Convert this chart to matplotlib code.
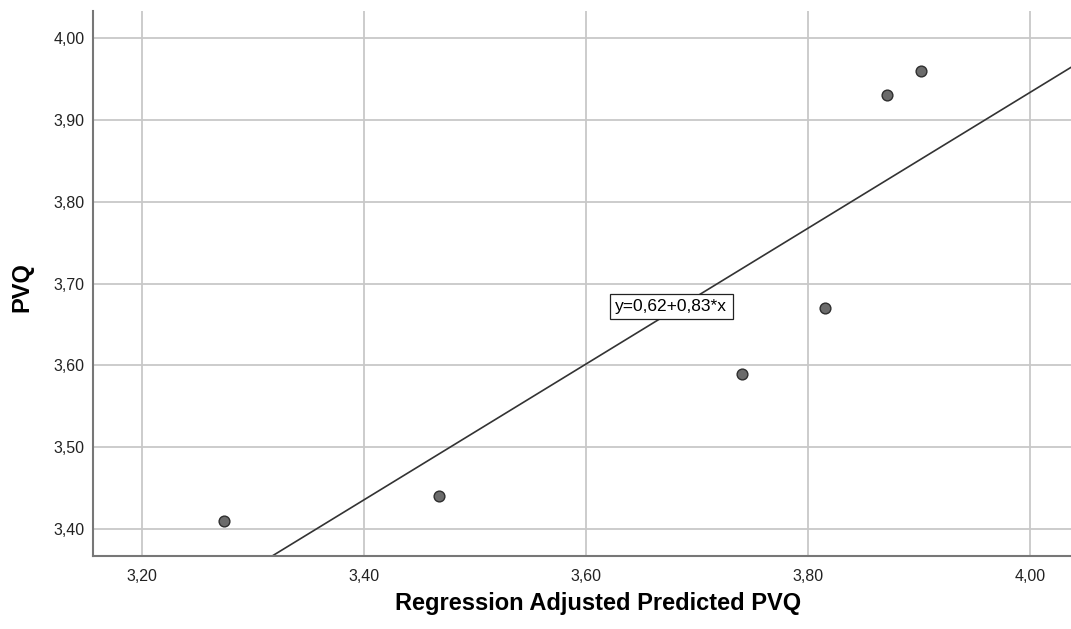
import matplotlib.pyplot as plt
import numpy as np
from matplotlib.ticker import FuncFormatter

# values
predicted_pvq = [3.274, 3.468, 3.741, 3.815, 3.871, 3.902]
observed_pvq = [3.41, 3.44, 3.59, 3.67, 3.93, 3.96]
fit_label = "y=0,62+0,83*x"
x_ticks = [3.20, 3.40, 3.60, 3.80, 4.00]
y_ticks = [3.40, 3.50, 3.60, 3.70, 3.80, 3.90, 4.00]

plt.rcParams["font.family"] = ["Liberation Sans", "DejaVu Sans"]

fig = plt.figure(figsize=(10.71, 6.29), dpi=100)
ax = fig.add_axes([0.0868, 0.116, 0.9132, 0.8665])

x_min, x_max = 3.156, 4.037
y_min, y_max = 3.367, 4.033

ax.grid(True, color="#c8c8c8", linewidth=1.3)
ax.set_axisbelow(True)

# least squares fit line, drawn across the whole x range
slope, intercept = np.polyfit(predicted_pvq, observed_pvq, 1)
fit_x = np.array([x_min, x_max])
ax.plot(fit_x, intercept + slope * fit_x, color="#333333", linewidth=1.2, zorder=2)

ax.scatter(predicted_pvq, observed_pvq, s=60, facecolor="#6b6b6b",
           edgecolor="#2e2e2e", linewidth=1.0, zorder=3)

ax.text(3.677, 3.672, fit_label, fontsize=12.5, ha="center", va="center",
        zorder=4,
        bbox=dict(boxstyle="square,pad=0.3", facecolor="white",
                  edgecolor="#222222", linewidth=0.9))

ax.set_xlim(x_min, x_max)
ax.set_ylim(y_min, y_max)
ax.set_xticks(x_ticks)
ax.set_yticks(y_ticks)
comma_fmt = FuncFormatter(lambda v, _: f"{v:.2f}".replace(".", ","))
ax.xaxis.set_major_formatter(comma_fmt)
ax.yaxis.set_major_formatter(comma_fmt)
ax.tick_params(length=0, labelsize=11.5, colors="#222222")
ax.tick_params(axis="x", pad=9)
ax.tick_params(axis="y", pad=6)

for side in ("top", "right"):
    ax.spines[side].set_visible(False)
for side in ("left", "bottom"):
    ax.spines[side].set_color("#777777")
    ax.spines[side].set_linewidth(1.5)

ax.set_xlabel("Regression Adjusted Predicted PVQ", fontsize=17,
              fontweight="bold", va="center")
ax.xaxis.set_label_coords(0.516, -0.088)
ax.set_ylabel("PVQ", fontsize=17, fontweight="bold", ha="center", va="center")
ax.yaxis.set_label_coords(-0.0726, 0.494)

fig.savefig("out.png", dpi=100)
